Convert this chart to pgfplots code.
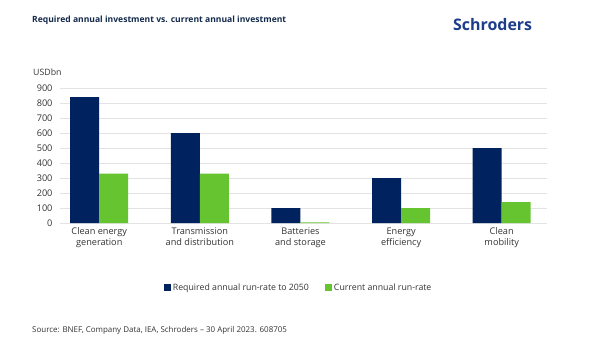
\documentclass[border=0pt]{standalone}
\usepackage{pgfplots}
\pgfplotsset{compat=1.18}
\usepackage{fontspec}
\setmainfont{Open Sans}
\definecolor{navy}{HTML}{00235F}
\definecolor{lgreen}{HTML}{66C430}
\definecolor{titlecol}{HTML}{13294B}
\definecolor{logocol}{HTML}{1D3C8A}
\definecolor{gridc}{HTML}{E3E3E3}
\definecolor{txt}{HTML}{333333}
\pgfplotstableread{
x req cur
0 840 330
1 600 330
2 100 5
3 300 100
4 500 140
}\datatable
\begin{document}
\begin{tikzpicture}[x=1bp,y=1bp]
\path[use as bounding box] (0,0) rectangle (600,356);
\node[anchor=west,font=\fontsize{8.6}{10}\selectfont\bfseries,text=titlecol,inner sep=0] at (32,336) {Required annual investment vs. current annual investment};
\node[anchor=west,font=\fontsize{16}{20}\selectfont\bfseries,text=logocol,inner sep=0] at (453,331) {Schroders};
\node[anchor=west,font=\fontsize{8.8}{10}\selectfont,text=txt,inner sep=0] at (33,284) {USDbn};
\node[anchor=west,font=\fontsize{8}{9}\selectfont,text=txt,inner sep=0] at (32,26) {Source: BNEF, Company Data, IEA, Schroders – 30 April 2023. 608705};
\begin{axis}[
  at={(60bp,133bp)}, anchor=south west,
  scale only axis, width=487bp, height=135bp,
  xmin=-0.39, xmax=4.45, ymin=0, ymax=900,
  ybar=0pt, bar width=29bp,
  axis line style={draw=none},
  ytick={0,100,...,900},
  ymajorgrids, grid style={gridc,line width=1bp},
  major tick length=0pt,
  xtick={0,1,2,3,4},
  xticklabels={{Clean energy\\generation},{Transmission\\and distribution},{Batteries\\and storage},{Energy\\efficiency},{Clean\\mobility}},
  xticklabel style={align=center,font=\fontsize{9.2}{11}\selectfont,text=txt,yshift=-1bp},
  yticklabel style={font=\fontsize{9.2}{10}\selectfont,text=txt,xshift=-4bp},
  /pgf/number format/assume math mode=true,
  legend columns=2,
  legend style={at={(0.49,-0.48)},anchor=center,draw=none,fill=none,
    font=\fontsize{8.8}{10}\selectfont,text=txt,
    /tikz/every even column/.append style={column sep=14bp}},
  legend image code/.code={\fill[#1] (0bp,-3.5bp) rectangle (7bp,3.5bp);},
]
\addplot[fill=navy,draw=none] table[x=x,y=req]{\datatable};
\addplot[fill=lgreen,draw=none] table[x=x,y=cur]{\datatable};
\legend{Required annual run-rate to 2050,Current annual run-rate}
\end{axis}
\end{tikzpicture}
\end{document}
